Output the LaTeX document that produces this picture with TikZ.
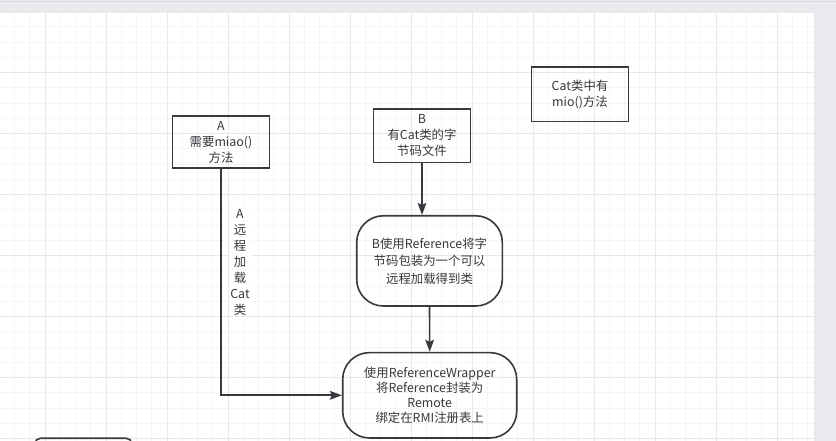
\documentclass[tikz,border=0pt]{standalone}
\usepackage{fontspec}
\setmainfont{Noto Sans CJK SC}
\usetikzlibrary{arrows.meta}

\newcommand*{\gridx}{-16}
\newcommand*{\gridy}{11.7}
\newcommand*{\gridw}{15.25}

\definecolor{minorgrid}{RGB}{245,245,245}
\definecolor{majorgrid}{RGB}{232,232,232}
\definecolor{panelgray}{RGB}{233,234,237}
\definecolor{panelline}{RGB}{214,217,223}
\definecolor{ink}{RGB}{54,57,61}

\begin{document}
\begin{tikzpicture}
[
	x=0.75pt,
	y=-0.75pt,
	box/.style={draw=ink,line width=1.2pt,text=ink,align=center,inner sep=0pt,font=\fontsize{9.3pt}{12pt}\selectfont},
	roundbox/.style={box,rounded corners=20pt},
	link/.style={draw=ink,line width=1.2pt,-{Stealth[length=9pt,width=6.5pt,inset=1.5pt]}},
	note/.style={fill=white,text=ink,align=center,inner sep=1pt,font=\fontsize{9.3pt}{12pt}\selectfont}
]

	\useasboundingbox (0,0) rectangle (836,441);
	\clip (0,0) rectangle (836,441);

	% canvas
	\fill[panelgray] (0,0) rectangle (836,441);
	\draw[panelline,line width=0.75pt] (0,2) -- (836,2);
	\fill[white] (0,13) rectangle (814,441);

	% grid
	\begin{scope}
		\clip (0,13) rectangle (814,441);
		\foreach \i in {1,...,54}
			\draw[minorgrid,line width=0.75pt] ({\gridx+\i*\gridw},13) -- ({\gridx+\i*\gridw},441);
		\foreach \j in {1,...,28}
			\draw[minorgrid,line width=0.75pt] (0,{\gridy+\j*\gridw}) -- (814,{\gridy+\j*\gridw});
		\foreach \i in {4,8,...,52}
			\draw[majorgrid,line width=0.75pt] ({\gridx+\i*\gridw},13) -- ({\gridx+\i*\gridw},441);
		\foreach \j in {4,8,...,28}
			\draw[majorgrid,line width=0.75pt] (0,{\gridy+\j*\gridw}) -- (814,{\gridy+\j*\gridw});
	\end{scope}

	% boxes
	\node[box,minimum width=72.5pt,minimum height=39.2pt] (needA) at (221,142) {A\\需要miao()\\方法};
	\node[box,minimum width=72.5pt,minimum height=40pt] (haveB) at (422,135.7) {B\\有Cat类的字\\节码文件};
	\node[box,minimum width=72.5pt,minimum height=40.8pt] (catinfo) at (580,94.5) {Cat类中有\\mio()方法};
	\node[roundbox,minimum width=109.2pt,minimum height=67.7pt,font=\fontsize{9.3pt}{13.1pt}\selectfont] (wrapref) at (429.5,260.9) {B使用Reference将字\\节码包装为一个可以\\远程加载得到类};
	\node[roundbox,minimum width=130.5pt,minimum height=64pt,font=\fontsize{9.3pt}{11.4pt}\selectfont] (bindrmi) at (429.7,395.3) {使用ReferenceWrapper\\将Reference封装为\\Remote\\绑定在RMI注册表上};

	% links
	\draw[link] (haveB.south) -- (haveB.south |- wrapref.north);
	\draw[link] (wrapref.south) -- (bindrmi.north);
	\draw[link] (needA.south) |- (bindrmi.west);
	\node[note] (loadlbl) at (240,262) {A\\远\\程\\加\\载\\Cat\\类};

	% box cut off at the bottom
	\draw[ink,line width=1.2pt,rounded corners=4pt] (35,460) -- (35,438.3) -- (131.7,438.3) -- (131.7,460);

\end{tikzpicture}
\end{document}
